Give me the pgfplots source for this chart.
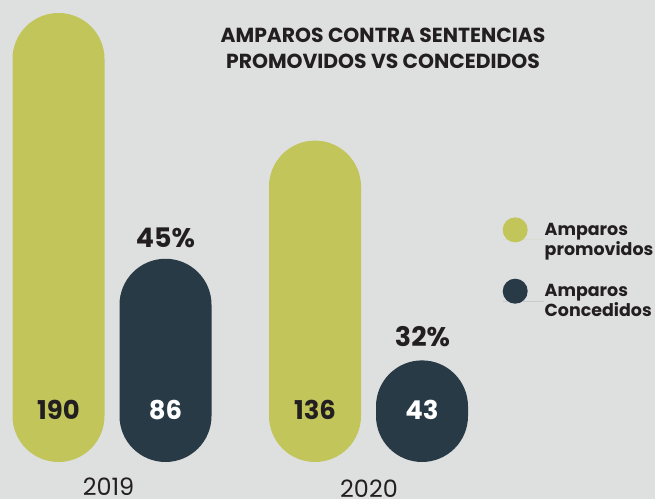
\documentclass[border=0pt]{standalone}
\usepackage{pgfplots}
\pgfplotsset{compat=1.18}
\usepackage{fontspec}
\setmainfont{Poppins}
\definecolor{bgc}{HTML}{DEE0E0}
\definecolor{olive}{HTML}{C2C55A}
\definecolor{darkb}{HTML}{283A46}
\definecolor{txt}{HTML}{231F20}
\begin{document}
\begin{tikzpicture}
\begin{axis}[
  width=655bp, height=499bp, scale only axis,
  xmin=0, xmax=655, ymin=-15.66, ymax=195.5,
  hide axis, clip=false,
  ybar, bar width=92, bar shift=0pt,
  legend style={at={(axis cs:502.5,103.6)}, anchor=north west, draw=none, fill=none,
    font=\fontsize{17.5}{20}\selectfont\bfseries\color{txt}, nodes={align=left, inner sep=1bp}, row sep=21bp,
    inner sep=0pt},
  legend cell align=left,
  legend image code/.code={\fill[#1] (12.5bp,10bp) circle (12.5bp); \path (0,0) -- (41bp,0);},
]
\fill[bgc] (rel axis cs:0,0) rectangle (rel axis cs:1,1);
\addplot[fill=olive, draw=none, rounded corners=46bp] coordinates {(58.5,190) (315,136)};
\addplot[fill=darkb, draw=none, rounded corners=46bp] coordinates {(165.5,86) (422,43)};
\legend{Amparos\\promovidos, Amparos\\Concedidos}
\node[font=\fontsize{26}{30}\selectfont\bfseries, text=txt, anchor=base] at (axis cs:58.5,18) {190};
\node[font=\fontsize{26}{30}\selectfont\bfseries, text=white, anchor=base] at (axis cs:165.5,18) {86};
\node[font=\fontsize{26}{30}\selectfont\bfseries, text=txt, anchor=base] at (axis cs:315,18) {136};
\node[font=\fontsize{26}{30}\selectfont\bfseries, text=white, anchor=base] at (axis cs:422,18) {43};
\node[font=\fontsize{27}{30}\selectfont\bfseries, text=txt, anchor=base] at (axis cs:165.5,90.6) {45\%};
\node[font=\fontsize{27}{30}\selectfont\bfseries, text=txt, anchor=base] at (axis cs:422.5,48.7) {32\%};
\node[font=\fontsize{24}{28}\selectfont, text=txt, anchor=base, inner sep=0pt, text depth=0pt] at (axis cs:108.5,-14.2) {2019};
\node[font=\fontsize{24}{28}\selectfont, text=txt, anchor=base, inner sep=0pt, text depth=0pt] at (axis cs:369,-14.9) {2020};
\node[font=\fontsize{20.4}{26}\selectfont\bfseries, text=txt, align=center] at (axis cs:383,174.9) {AMPAROS CONTRA SENTENCIAS\\PROMOVIDOS VS CONCEDIDOS};
\end{axis}
\end{tikzpicture}
\end{document}
